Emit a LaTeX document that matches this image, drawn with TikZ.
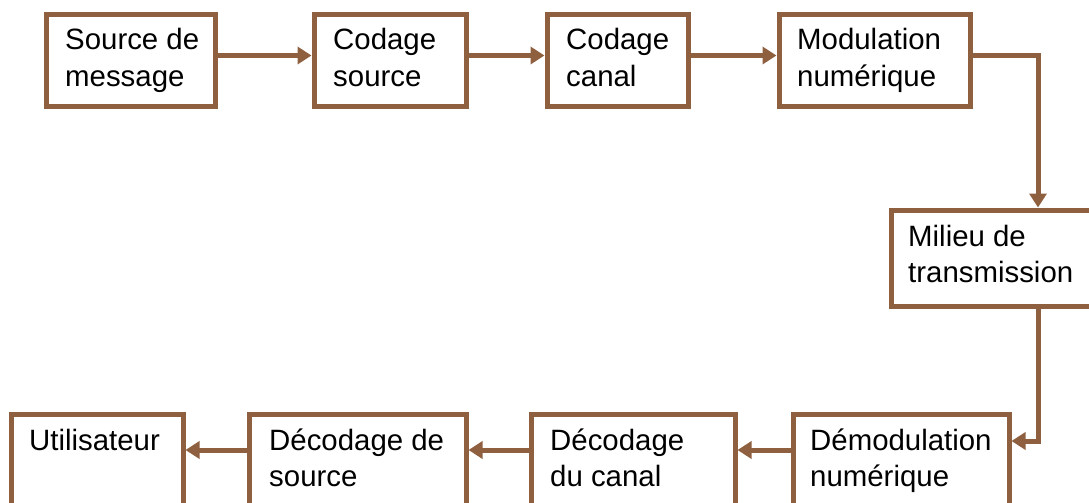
\documentclass[tikz,border=0pt]{standalone}
\usepackage{fontspec}
\setmainfont{Liberation Sans}
\usetikzlibrary{arrows.meta,calc}
\definecolor{brn}{RGB}{143,96,64}
\begin{document}
\begin{tikzpicture}[x=1pt,y=-1pt,
  box/.style={draw=brn, line width=5pt, fill=white, inner sep=0pt, minimum height=91pt},
  lbl/.style={anchor=base west, inner sep=0pt, align=left, font=\fontsize{29.4}{36}\selectfont},
  conn/.style={draw=brn, line width=5pt, -{Triangle[length=14pt,width=17pt]}}]
\useasboundingbox (0,0) rectangle (1089,503);
\clip (0,0) rectangle (1089,503);
% top row
\node[box, minimum width=169pt] (b1) at (130.5,60.5) {};
\node[box, minimum width=152pt] (b2) at (390,60.5) {};
\node[box, minimum width=141pt] (b3) at (617.5,60.5) {};
\node[box, minimum width=191pt] (b4) at (874.5,60.5) {};
% channel
\node[box, minimum width=210pt, minimum height=96pt] (mil) at (996,258) {};
% bottom row
\node[box, minimum width=172pt, minimum height=96pt] (u) at (97,462) {};
\node[box, minimum width=217pt, minimum height=96pt] (ds) at (357.5,462) {};
\node[box, minimum width=204pt, minimum height=96pt] (dc) at (633,462) {};
\node[box, minimum width=216pt, minimum height=96pt] (dm) at (901,462) {};
% labels (base anchor = baseline of last line)
\node[lbl] (t1) at (65,86) {Source de\\message};
\node[lbl] (t2) at (333,86) {Codage\\source};
\node[lbl] (t3) at (566,86) {Codage\\canal};
\node[lbl] (t4) at (797,86) {Modulation\\numérique};
\node[lbl] (tm) at (908,282) {Milieu de\\transmission};
\node[lbl] (tu) at (29,450) {Utilisateur};
\node[lbl] (tds) at (269,486) {Décodage de\\source};
\node[lbl] (tdc) at (550,486) {Décodage\\du canal};
\node[lbl] (tdm) at (810,486) {Démodulation\\numérique};
% connectors
\coordinate (ytop) at (0,55.5);
\coordinate (ybot) at (0,450);
\coordinate (vx) at (1038,0);
\coordinate (yin) at (0,441);
\draw[conn] (b1.east |- ytop) -- (b2.west |- ytop);
\draw[conn] (b2.east |- ytop) -- (b3.west |- ytop);
\draw[conn] (b3.east |- ytop) -- (b4.west |- ytop);
\draw[conn] (b4.east |- ytop) -| (mil.north -| vx);
\draw[conn] (mil.south -| vx) |- (dm.east |- yin);
\draw[conn] (dm.west |- ybot) -- (dc.east |- ybot);
\draw[conn] (dc.west |- ybot) -- (ds.east |- ybot);
\draw[conn] (ds.west |- ybot) -- (u.east |- ybot);
\end{tikzpicture}
\end{document}
